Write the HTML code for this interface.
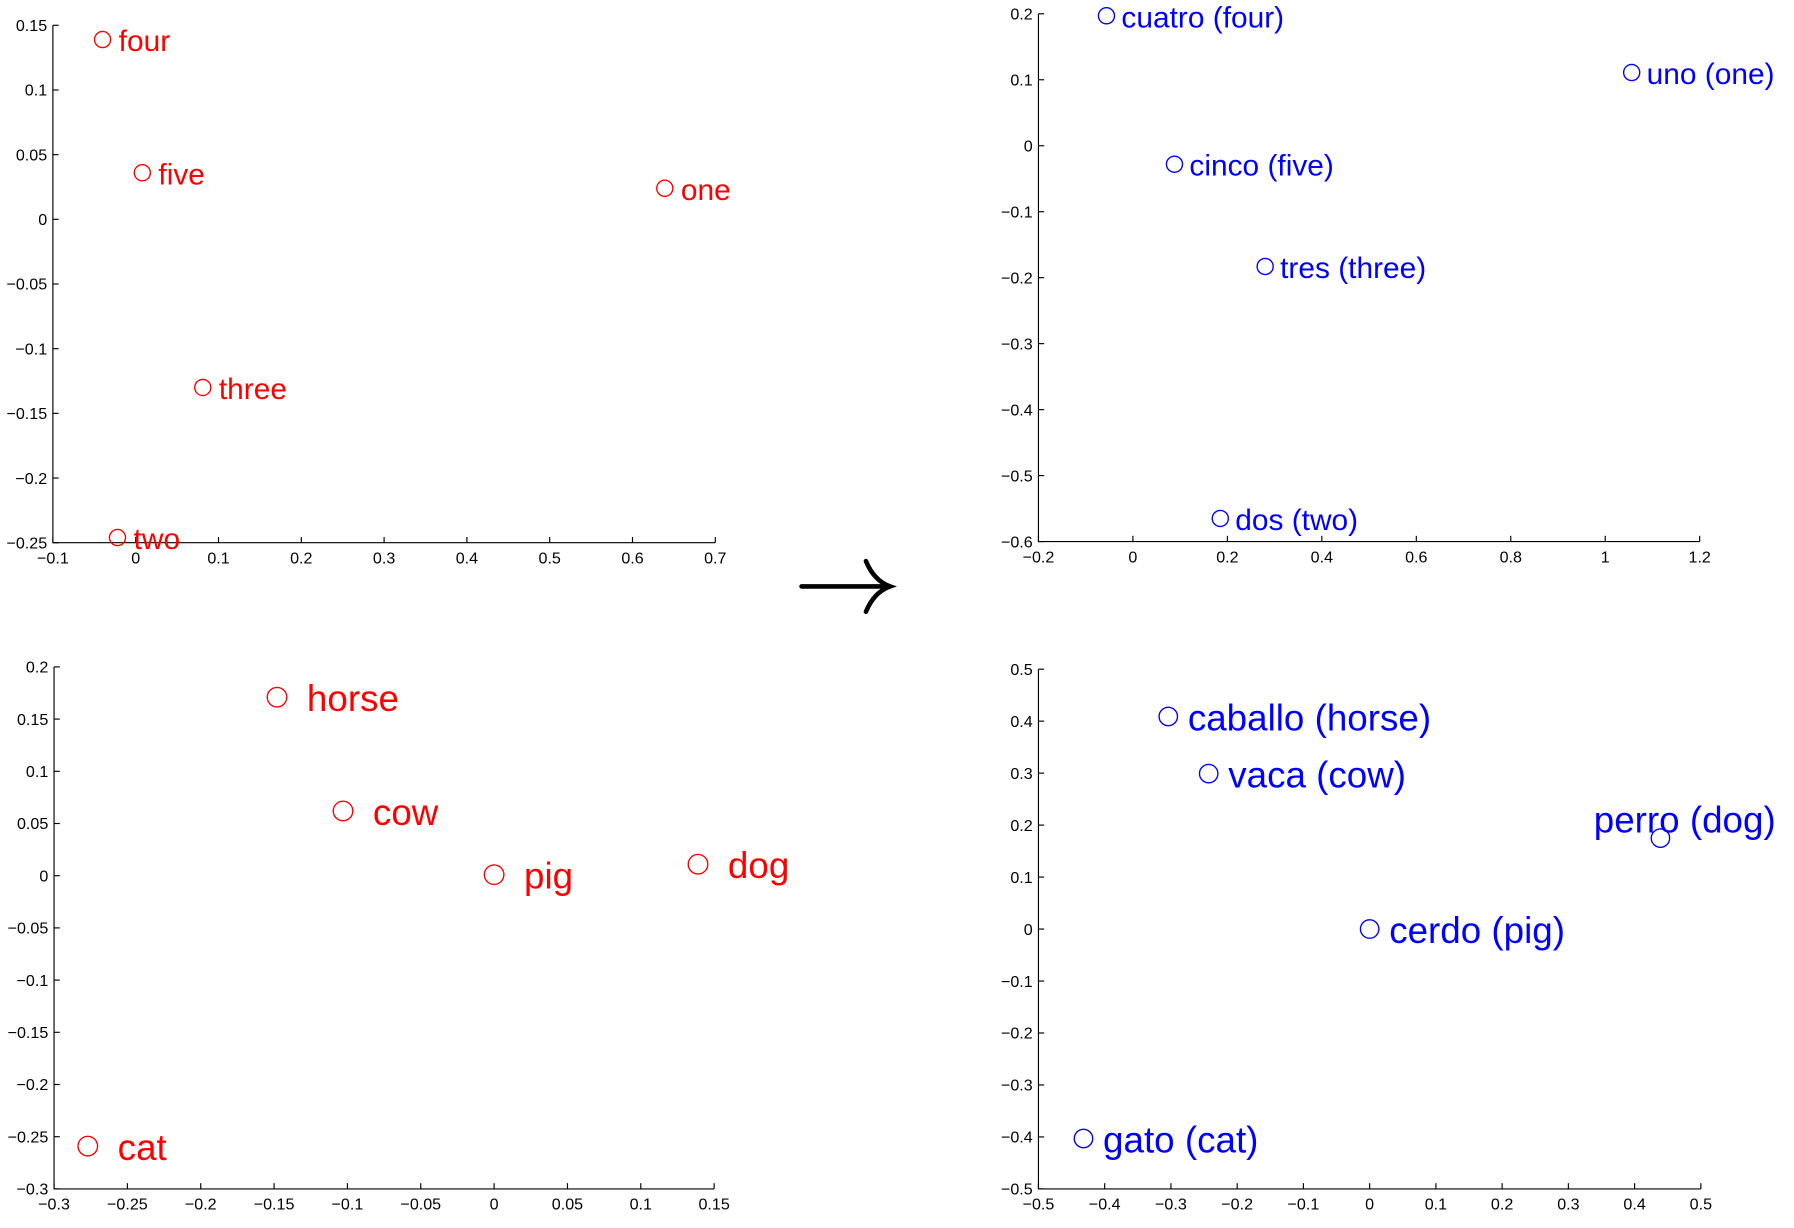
<!DOCTYPE html>
<html><head><meta charset="utf-8"><style>
html,body{margin:0;padding:0;background:#fff;}
svg{display:block;}
text{font-family:"Liberation Sans",sans-serif;}
</style></head><body>
<svg id="fig" width="1794" height="1228" viewBox="0 0 1560 1068" preserveAspectRatio="none" xmlns="http://www.w3.org/2000/svg">
<path d="M697 510 L772 510 M753 488 Q760 505 774 510 Q760 515 753 532" fill="none" stroke="#000" stroke-width="4" stroke-linecap="round"/>
</svg>
<script>
// Panel 1: English numbers
const p1Labels=["four","five","one","three","two"];
const p1X=[-0.04,0.008,0.639,0.081,-0.022];
const p1Y=[0.139,0.036,0.024,-0.130,-0.246];
const p1XTicks=[-0.1,0,0.1,0.2,0.3,0.4,0.5,0.6,0.7];
const p1YTicks=[0.15,0.1,0.05,0,-0.05,-0.1,-0.15,-0.2,-0.25];
// Panel 2: Spanish numbers
const p2Labels=["cuatro (four)","uno (one)","cinco (five)","tres (three)","dos (two)"];
const p2X=[-0.056,1.056,0.088,0.28,0.185];
const p2Y=[0.197,0.111,-0.028,-0.183,-0.565];
const p2XTicks=[-0.2,0,0.2,0.4,0.6,0.8,1,1.2];
const p2YTicks=[0.2,0.1,0,-0.1,-0.2,-0.3,-0.4,-0.5,-0.6];
// Panel 3: English animals
const p3Labels=["horse","cow","pig","dog","cat"];
const p3X=[-0.148,-0.103,0,0.139,-0.277];
const p3Y=[0.171,0.062,0.001,0.011,-0.259];
const p3XTicks=[-0.3,-0.25,-0.2,-0.15,-0.1,-0.05,0,0.05,0.1,0.15];
const p3YTicks=[0.2,0.15,0.1,0.05,0,-0.05,-0.1,-0.15,-0.2,-0.25,-0.3];
// Panel 4: Spanish animals
const p4Labels=["caballo (horse)","vaca (cow)","cerdo (pig)","perro (dog)","gato (cat)"];
const p4X=[-0.304,-0.243,0,0.439,-0.432];
const p4Y=[0.409,0.299,0,0.175,-0.403];
const p4XTicks=[-0.5,-0.4,-0.3,-0.2,-0.1,0,0.1,0.2,0.3,0.4,0.5];
const p4YTicks=[0.5,0.4,0.3,0.2,0.1,0,-0.1,-0.2,-0.3,-0.4,-0.5];

const svg=document.getElementById('fig');
const NS='http://www.w3.org/2000/svg';
function mk(tag,attrs){const e=document.createElementNS(NS,tag);for(const k in attrs)e.setAttribute(k,attrs[k]);svg.appendChild(e);return e;}
function fmt(v){let s=String(Math.round(v*100)/100);return s.replace('-','\u2212');}

function panel(name,box,xt,yt,xs,ys,labels,color,r,fs,dx,dy,special){
  const [L,R,T,B]=box;
  const x0=xt[0],x1=xt[xt.length-1],y0=yt[yt.length-1],y1=yt[0];
  const sx=v=>L+(v-x0)/(x1-x0)*(R-L);
  const sy=v=>B-(v-y0)/(y1-y0)*(B-T);
  const ax=mk('path',{d:`M${L} ${T} L${L} ${B} L${R} ${B}`,fill:'none',stroke:'#000','stroke-width':1});
  
  
  xt.forEach(v=>{
    const X=sx(v);
    const t=mk('line',{x1:X,x2:X,y1:B,y2:B-5,stroke:'#000','stroke-width':1});
    
    
    const l=mk('text',{x:X,y:B+18,'font-size':14,'text-anchor':'middle'});
    l.textContent=fmt(v);
    
    
  });
  yt.forEach(v=>{
    const Y=sy(v);
    const t=mk('line',{x1:L,x2:L+5,y1:Y,y2:Y,stroke:'#000','stroke-width':1});
    
    
    const l=mk('text',{x:L-5,y:Y+5,'font-size':14,'text-anchor':'end'});
    l.textContent=fmt(v);
    
    
  });
  labels.forEach((lab,i)=>{
    const X=sx(xs[i]),Y=sy(ys[i]);
    const c=mk('circle',{cx:X,cy:Y,r:r,fill:'none',stroke:color,'stroke-width':1.2});
    
    
    let tx=X+dx,ty=Y+dy;
    if(special&&special[i]){tx=X+special[i][0];ty=Y+special[i][1];}
    const t=mk('text',{x:tx,y:ty,'font-size':fs,fill:color});
    t.textContent=lab;
    
    
  });
}
panel('english-numbers',[46,622,22,472],p1XTicks,p1YTicks,p1X,p1Y,p1Labels,'#ff0000',7,26,14,10);
panel('spanish-numbers',[903,1478,12,471],p2XTicks,p2YTicks,p2X,p2Y,p2Labels,'#0000ff',7,26,13,10);
panel('english-animals',[47,621,580,1034],p3XTicks,p3YTicks,p3X,p3Y,p3Labels,'#ff0000',8.5,32,26,12);
panel('spanish-animals',[903,1479,582,1034],p4XTicks,p4YTicks,p4X,p4Y,p4Labels,'#0000ff',8,32,17,12,{3:[-58,-5]});
</script>
</body></html>
